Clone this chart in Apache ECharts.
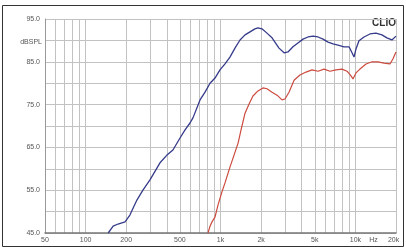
<!DOCTYPE html>
<html>
<head>
<meta charset="utf-8">
<script src="https://cdn.jsdelivr.net/npm/echarts@6/dist/echarts.min.js"></script>
<style>
html, body { margin: 0; padding: 0; background: #fff; }
#chart { width: 406px; height: 247px; }
</style>
</head>
<body>
<div id="chart"></div>
<script>
// frequency response, Hz / dB SPL
var blueFreq = [147, 160, 174, 196, 213, 240, 266, 300, 356, 401, 444, 501, 546, 594, 625, 705, 768, 836, 910, 991, 1080, 1175, 1280, 1395, 1520, 1655, 1800, 1895, 2030, 2210, 2410, 2715, 2960, 3165, 3445, 3750, 4090, 4455, 4850, 5285, 5755, 6270, 6825, 7430, 8230, 8970, 9440, 9770, 10100, 10630, 11580, 12820, 14200, 15730, 17130, 18660, 20000];
var blueDb = [45.0, 46.6, 47.1, 47.6, 49.2, 52.7, 55.0, 57.4, 61.4, 63.2, 64.4, 67.2, 69.1, 70.7, 71.9, 76.1, 77.9, 80.0, 81.2, 83.1, 84.5, 86.1, 88.2, 90.1, 91.3, 92.0, 92.7, 92.9, 92.7, 91.7, 90.6, 88.2, 87.1, 87.3, 88.5, 89.4, 90.3, 90.8, 91.0, 90.8, 90.3, 89.6, 89.2, 88.9, 88.5, 88.5, 87.1, 86.1, 88.0, 89.9, 90.8, 91.5, 91.7, 91.3, 90.6, 90.1, 91.0];
var redFreq = [808, 836, 865, 910, 958, 1025, 1080, 1175, 1260, 1350, 1420, 1520, 1625, 1740, 1895, 2065, 2210, 2410, 2625, 2860, 3005, 3220, 3510, 3880, 4305, 4765, 5285, 5850, 6485, 7180, 7960, 8670, 9280, 9600, 10100, 10810, 11990, 13280, 14720, 16300, 18050, 19000, 20000];
var redDb = [45.0, 46.6, 47.6, 48.7, 51.5, 54.6, 56.7, 60.4, 63.2, 66.0, 69.1, 73.0, 75.1, 77.0, 78.2, 78.9, 78.7, 77.9, 77.2, 76.1, 76.3, 77.9, 80.7, 81.9, 82.6, 83.1, 82.8, 83.3, 82.8, 83.1, 83.3, 82.8, 81.7, 81.0, 82.4, 83.3, 84.5, 85.0, 85.0, 84.7, 84.5, 85.7, 87.3];

var gridFreq = [50, 60, 70, 80, 90, 100, 200, 300, 400, 500, 600, 700, 800, 900, 1000, 2000, 3000, 4000, 5000, 6000, 7000, 8000, 9000, 10000, 20000];
var labelFreq = [50, 100, 200, 500, 1000, 2000, 5000, 10000, 13600, 19200];
var labelText = ['50', '100', '200', '500', '1k', '2k', '5k', '10k', 'Hz', '20k'];
var dbLabels = [45, 55, 65, 75, 85, 95];

function lg(v) { return Math.log(v) / Math.LN10; }

function pairs(fs, ds) {
	var out = [];
	for (var i = 0; i < fs.length; i++) out.push([lg(fs[i]), ds[i]]);
	return out;
}

var labelPos = labelFreq.map(lg);

var chart = echarts.init(document.getElementById('chart'), null, { renderer: 'canvas' });
var option = {
	animation: false,
	backgroundColor: '#fff',
	grid: { left: 45, right: 10, top: 19, bottom: 14 },
	xAxis: {
		type: 'value',
		min: lg(50),
		max: lg(20000),
		axisLine: { show: true, lineStyle: { color: '#777', width: 1.5 } },
		axisTick: { show: false, customValues: gridFreq.map(lg) },
		splitLine: { show: true, lineStyle: { color: '#c2c2c2', width: 1 } },
		axisLabel: {
			customValues: labelPos,
			fontFamily: 'Liberation Sans',
			fontSize: 7,
			color: '#555',
			margin: 4,
			formatter: function(v) {
				for (var i = 0; i < labelPos.length; i++) {
					if (Math.abs(labelPos[i] - v) < 1e-6) return labelText[i];
				}
				return '';
			}
		}
	},
	yAxis: {
		type: 'value',
		min: 45,
		max: 95,
		interval: 5,
		axisLine: { show: true, lineStyle: { color: '#999', width: 1 } },
		axisTick: { show: false },
		splitLine: { show: true, lineStyle: { color: '#c2c2c2', width: 1 } },
		axisLabel: {
			customValues: dbLabels,
			fontFamily: 'Liberation Sans',
			fontSize: 7,
			color: '#555',
			margin: 5,
			formatter: function(v) { return v.toFixed(1); }
		}
	},
	series: [
		{
			type: 'line',
			data: pairs(blueFreq, blueDb),
			showSymbol: false,
			lineStyle: { color: '#353b8a', width: 1.3 }
		},
		{
			type: 'line',
			data: pairs(redFreq, redDb),
			showSymbol: false,
			lineStyle: { color: '#cc4a3e', width: 1.2 }
		}
	],
	graphic: [
		{ type: 'rect', shape: { x: 2.5, y: 5.5, width: 401, height: 241 }, style: { fill: 'none', stroke: '#333', lineWidth: 1 } },
		{ type: 'text', x: 42, y: 42, style: { text: 'dBSPL', font: '7px "Liberation Sans"', fill: '#555', align: 'right', verticalAlign: 'middle' } },
		{ type: 'text', x: 396, y: 23, style: { text: 'CLIO', font: 'bold 10px "Liberation Sans"', fill: '#333', align: 'right', verticalAlign: 'middle' } }
	]
};
chart.setOption(option);
</script>
</body>
</html>
